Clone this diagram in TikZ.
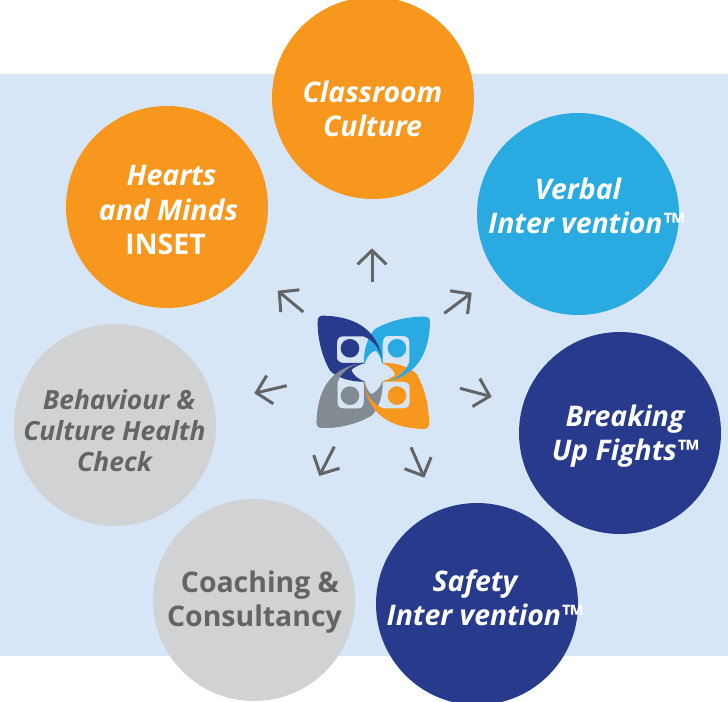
\documentclass[tikz,border=0pt]{standalone}
\usepackage{fontspec}
\setmainfont{Open Sans}
\usetikzlibrary{arrows.meta}
\definecolor{bgblue}{HTML}{D6E6F7}
\definecolor{orangeC}{HTML}{F7971E}
\definecolor{skyC}{HTML}{29ABE2}
\definecolor{navyC}{HTML}{283A8C}
\definecolor{greyC}{HTML}{D1D2D3}
\definecolor{txtgrey}{HTML}{636466}
\definecolor{logogrey}{HTML}{828A92}
\tikzset{
 disc/.style={circle,minimum size=202bp,inner sep=0pt},
 captxt/.style={inner sep=0pt,align=center,font=\fontsize{28.4bp}{34bp}\selectfont\bfseries},
 capw/.style={captxt,text=white},
 capg/.style={captxt,text=txtgrey},
 spoke/.style={draw=txtgrey,line width=3bp,-{Straight Barb[length=14bp,width=29bp,line width=3bp]}},
}
\newcommand{\petalpath}{(-150,-170) .. controls (-70,-168) and (15,-140) .. (29,-27)
 .. controls (26,-60) and (5,-95) .. (-30,-108) -- (-90,-108)
 .. controls (-105,-108) and (-109,-100) .. (-109,-85) -- (-109,-45)
 .. controls (-109,-33) and (-100,-28) .. (-85,-28) -- (-24,-28) -- (-24,28)
 .. controls (-70,30) and (-110,15) .. (-130,-5)
 .. controls (-155,-50) and (-167,-100) .. (-167,-150)
 .. controls (-167,-165) and (-163,-170) .. (-150,-170) -- cycle}
\begin{document}
\begin{tikzpicture}[x=1bp,y=-1bp]
\useasboundingbox (0,0) rectangle (728,702);
\fill[white] (0,0) rectangle (728,702);
\fill[bgblue] (0,74) rectangle (728,656);
\node[disc,fill=orangeC] (cc) at (373,98) {};
\node[disc,fill=skyC] (vi) at (578,214) {};
\node[disc,fill=navyC] (bf) at (620,433) {};
\node[disc,fill=navyC] (si) at (477,604) {};
\node[disc,fill=greyC] (cy) at (254,600) {};
\node[disc,fill=greyC] (bh) at (115,425) {};
\node[disc,fill=orangeC] (hm) at (167,207) {};
\node[capw] (cct) at (372.5,109) {\itshape Classroom\\\itshape Culture};
\node[capw] (vit) at (586,206) {\itshape Verbal\hspace*{16bp}\\\itshape Inter vention™};
\node[capw] (bft) at (625,436) {\itshape Breaking\\\itshape Up Fights™};
\node[capw] (sit) at (484.5,598) {\itshape Safety\hspace*{19bp}\\\itshape Inter vention™};
\node[capg] (cyt) at (254.5,602) {\hspace*{11bp}Coaching \&\\Consultancy};
\node[capg,font=\fontsize{26.4bp}{31bp}\selectfont\bfseries] (bht) at (114.5,431) {\hspace*{9bp}\itshape Behaviour \&\\\itshape Culture Health\\\itshape Check};
\node[capw] (hmt) at (168.5,210) {\hspace*{6bp}\itshape Hearts\\\itshape and Minds\\INSET\hspace*{6bp}};
% logo
\begin{scope}[shift={(373.3,372.3)},scale=0.3333]
 \begin{scope}[rotate=90]\fill[logogrey] \petalpath;\end{scope}
 \begin{scope}[rotate=180]\fill[orangeC] \petalpath;\end{scope}
 \begin{scope}[rotate=-90]\fill[skyC] \petalpath;\end{scope}
 \fill[navyC] \petalpath;
 \begin{scope}
  \clip (-200,-200) rectangle (-29,200);
  \begin{scope}[rotate=90]\fill[logogrey] \petalpath;\end{scope}
 \end{scope}
 \fill[bgblue] (-25,-27) .. controls (-20,-47) and (-5,-62) .. (7,-65) .. controls (15,-57) and (23,-42) .. (26,-27)
  .. controls (47,-20) and (62,-5) .. (65,7) .. controls (57,15) and (42,23) .. (27,26)
  .. controls (20,47) and (5,62) .. (-7,65) .. controls (-15,57) and (-23,42) .. (-26,27)
  .. controls (-47,20) and (-62,5) .. (-65,-7) .. controls (-57,-15) and (-42,-23) .. (-25,-27) -- cycle;
 \fill[navyC] (-70,-72) circle (28);
 \fill[skyC] (71,-72) circle (28);
 \fill[logogrey] (-70,70) circle (28);
 \fill[orangeC] (71,70) circle (28);
\end{scope}
\coordinate (a1s) at (372,281.7);\coordinate (a1e) at (372,248.3);
\coordinate (a2s) at (444.3,313.3);\coordinate (a2e) at (471.7,292.7);
\coordinate (a3s) at (460,388.3);\coordinate (a3e) at (491.7,396.7);
\coordinate (a4s) at (411,447.3);\coordinate (a4e) at (424.3,477.7);
\coordinate (a5s) at (334.3,446.7);\coordinate (a5e) at (319.3,476);
\coordinate (a6s) at (286.7,385.7);\coordinate (a6e) at (254.3,393.3);
\coordinate (a7s) at (303.3,312);\coordinate (a7e) at (277.7,290.7);
\foreach \i in {1,...,7}{\draw[spoke] (a\i s) -- (a\i e);}
\end{tikzpicture}
\end{document}
